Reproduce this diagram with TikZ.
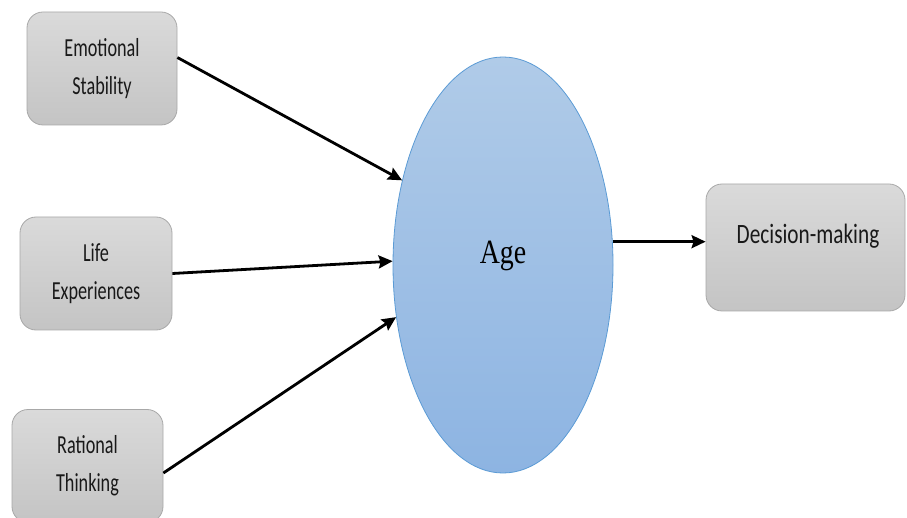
\documentclass[tikz,border=0pt]{standalone}
\usepackage{graphicx}
\usepackage{fontspec}
\setmainfont{Carlito}
\newfontfamily\agefont{Liberation Serif}
\usetikzlibrary{shapes.geometric,arrows.meta}
\definecolor{boxtop}{HTML}{DADADA}
\definecolor{boxbot}{HTML}{C4C4C4}
\definecolor{boxline}{HTML}{A8A8A8}
\definecolor{elltop}{HTML}{B0CBE8}
\definecolor{ellbot}{HTML}{8DB4E2}
\definecolor{ellline}{HTML}{5B9BD5}
\newcommand\sxb[1]{\scalebox{0.7}[1]{#1}}
\tikzset{
  gbox/.style={draw=boxline, line width=0.8pt, rounded corners=16pt,
    top color=boxtop, bottom color=boxbot, align=center,
    font=\fontsize{26}{38}\selectfont, text=black!90, inner sep=0pt},
  conn/.style={line width=2.8pt, -{Stealth[length=14pt,width=13pt,inset=2pt]}}
}
\begin{document}
\begin{tikzpicture}[x=1pt,y=-1pt]
\useasboundingbox (0,0) rectangle (907,518);
\begin{scope}
\clip (0,0) rectangle (907,518);
\node[gbox, minimum width=150pt, minimum height=113pt] (es) at (102,68.5) {\sxb{Emotional}\\\sxb{Stability}};
\node[gbox, minimum width=152pt, minimum height=113pt] (le) at (96,273.5) {\sxb{Life}\\\sxb{Experiences}};
\node[gbox, minimum width=151pt, minimum height=113pt] (rt) at (87.5,466) {\sxb{Rational}\\\sxb{Thinking}};
\node[gbox, minimum width=199pt, minimum height=127pt] (dm) at (805.5,247.5) {};
\node[font=\fontsize{28}{34}\selectfont, text=black!90, inner sep=0pt] (dmt) at (808,236) {\scalebox{0.76}[1]{Decision-making}};
\node[ellipse, draw=ellline, line width=0.8pt, top color=elltop, bottom color=ellbot,
  minimum width=220pt, minimum height=416pt, inner sep=0pt] (age) at (503,265) {};
\node[font=\agefont\fontsize{34}{40}\selectfont, inner sep=0pt] (aget) at (503,256) {\scalebox{0.82}[1]{Age}};
\draw[conn] ([yshift=11pt]es.east) -- (age.140.8);
\draw[conn] (le.east) -- (age.178.4);
\draw[conn] ([yshift=-7pt]rt.east) -- (age.206.6);
\draw[conn] (age.12.4) -- (age.12.4 -| dm.west);
\end{scope}
\end{tikzpicture}
\end{document}
